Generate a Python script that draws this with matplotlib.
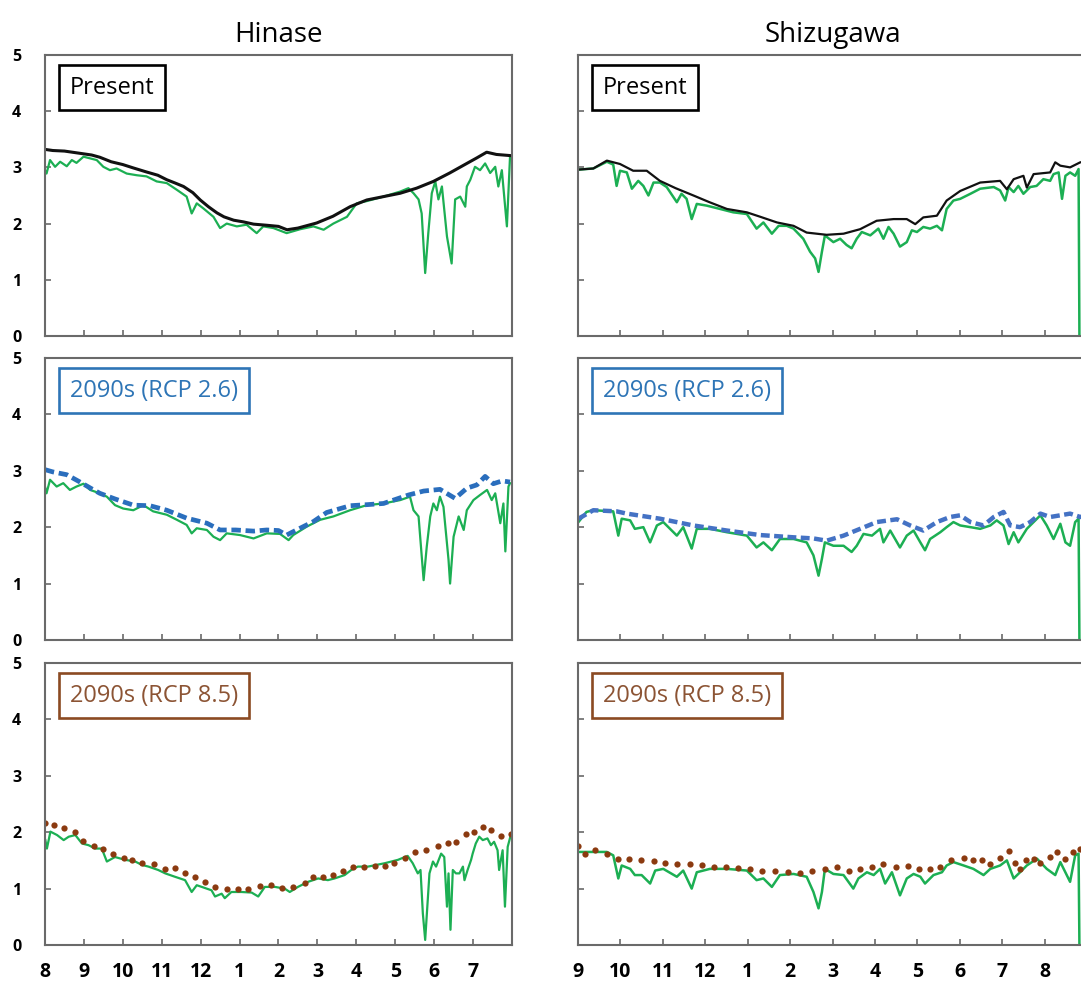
import numpy as np
import matplotlib
matplotlib.use("Agg")
import matplotlib.pyplot as plt

plt.rcParams['font.family'] = ['Open Sans', 'DejaVu Sans']

### Data (x = months since start of the water year) ###

hinase_months = ["8", "9", "10", "11", "12", "1", "2", "3", "4", "5", "6", "7"]
shizu_months = ["9", "10", "11", "12", "1", "2", "3", "4", "5", "6", "7", "8"]

# Hinase - Present
hin_pres_ref_t = [0.0, 0.2, 0.5, 0.9, 1.2, 1.41, 1.7, 2.0, 2.27, 2.6, 2.9, 3.13, 3.35, 3.56, 3.8,
                  3.99, 4.2, 4.42, 4.6, 4.85, 5.1, 5.36, 5.7, 6.0, 6.22, 6.5, 6.98, 7.4, 7.84, 8.27,
                  8.7, 9.13, 9.55, 9.98, 10.4, 10.84, 11.1, 11.35, 11.6, 11.95]
hin_pres_ref = [3.32, 3.30, 3.29, 3.25, 3.22, 3.18, 3.10, 3.05, 2.99, 2.92, 2.86, 2.78, 2.72, 2.66, 2.55,
                2.42, 2.30, 2.19, 2.12, 2.06, 2.03, 1.99, 1.97, 1.95, 1.89, 1.92, 2.01, 2.13, 2.30, 2.42,
                2.48, 2.54, 2.63, 2.75, 2.90, 3.07, 3.17, 3.27, 3.23, 3.21]
hin_pres_mod_t = [0.0, 0.04, 0.13, 0.26, 0.39, 0.56, 0.69, 0.81, 0.99, 1.16, 1.33, 1.50, 1.67, 1.84,
                  2.10, 2.36, 2.61, 2.87, 3.13, 3.39, 3.64, 3.77, 3.90, 4.07, 4.33, 4.50, 4.67, 4.93,
                  5.18, 5.44, 5.61, 5.87, 6.21, 6.56, 6.90, 7.16, 7.41, 7.76, 8.01, 8.27, 8.70, 9.13,
                  9.34, 9.47, 9.60, 9.68, 9.77, 9.85, 9.94, 10.03, 10.11, 10.20, 10.33, 10.45, 10.54,
                  10.67, 10.80, 10.84, 10.93, 11.05, 11.18, 11.31, 11.44, 11.57, 11.65, 11.74, 11.87, 11.95]
hin_pres_mod = [2.95, 2.89, 3.13, 3.01, 3.10, 3.02, 3.13, 3.08, 3.19, 3.16, 3.13, 3.01, 2.95, 2.98,
                2.89, 2.86, 2.84, 2.75, 2.72, 2.60, 2.48, 2.18, 2.36, 2.27, 2.12, 1.92, 2.00, 1.95,
                1.98, 1.83, 1.95, 1.92, 1.83, 1.90, 1.95, 1.89, 2.00, 2.12, 2.36, 2.40, 2.48, 2.57,
                2.63, 2.54, 2.43, 2.18, 1.12, 1.83, 2.54, 2.75, 2.43, 2.66, 1.77, 1.29, 2.43,
                2.48, 2.30, 2.66, 2.78, 3.01, 2.95, 3.07, 2.90, 3.01, 2.66, 2.95, 1.95, 3.19]

# Hinase - 2090s RCP 2.6
hin_26_ref_t = [0.0, 0.2, 0.56, 0.9, 1.2, 1.41, 1.8, 2.27, 2.7, 3.13, 3.64, 4.16, 4.5, 4.9, 5.36, 5.7,
                6.0, 6.21, 6.38, 6.9, 7.24, 7.84, 8.3, 8.7, 9.34, 9.73, 10.15, 10.54, 10.84, 11.1,
                11.31, 11.52, 11.75, 11.95]
hin_26_ref = [3.02, 2.98, 2.93, 2.80, 2.68, 2.60, 2.50, 2.39, 2.38, 2.30, 2.16, 2.07, 1.95, 1.95, 1.93,
              1.95, 1.94, 1.86, 1.92, 2.10, 2.26, 2.38, 2.40, 2.42, 2.57, 2.64, 2.67, 2.51, 2.69, 2.75,
              2.90, 2.77, 2.82, 2.80]
hin_26_mod_t = [0.0, 0.04, 0.13, 0.30, 0.47, 0.64, 0.81, 0.99, 1.16, 1.41, 1.59, 1.80, 2.01, 2.27, 2.53,
                2.78, 3.13, 3.39, 3.64, 3.77, 3.90, 4.16, 4.33, 4.50, 4.67, 5.01, 5.36, 5.70, 6.04,
                6.26, 6.38, 6.73, 7.07, 7.41, 7.84, 8.27, 8.70, 9.13, 9.38, 9.47, 9.60, 9.73, 9.81,
                9.90, 9.98, 10.07, 10.15, 10.24, 10.37, 10.41, 10.50, 10.63, 10.76, 10.84, 11.01,
                11.18, 11.36, 11.48, 11.57, 11.70, 11.78, 11.83, 11.91, 11.95]
hin_26_mod = [2.72, 2.60, 2.84, 2.72, 2.78, 2.66, 2.72, 2.77, 2.66, 2.60, 2.54, 2.39, 2.33, 2.30, 2.39,
              2.28, 2.22, 2.13, 2.04, 1.89, 1.98, 1.95, 1.83, 1.77, 1.89, 1.86, 1.80, 1.89, 1.88,
              1.77, 1.86, 2.01, 2.13, 2.19, 2.30, 2.39, 2.42, 2.48, 2.54, 2.30, 2.19, 1.06, 1.65,
              2.19, 2.42, 2.30, 2.54, 2.36, 1.42, 1.00, 1.83, 2.19, 1.95, 2.30, 2.48,
              2.57, 2.66, 2.48, 2.60, 2.07, 2.42, 1.57, 2.72, 2.78]

# Hinase - 2090s RCP 8.5 (reference as weekly dots)
hin_85_ref_t = [0.01, 0.22, 0.48, 0.78, 0.99, 1.25, 1.50, 1.76, 2.02, 2.23, 2.49, 2.79, 3.09, 3.34,
                3.60, 3.86, 4.11, 4.37, 4.67, 4.97, 5.22, 5.52, 5.82, 6.08, 6.38, 6.68, 6.89, 7.15,
                7.40, 7.66, 7.91, 8.21, 8.47, 8.73, 8.98, 9.24, 9.50, 9.79, 10.09, 10.35, 10.56,
                10.82, 11.03, 11.25, 11.46, 11.72, 11.97]
hin_85_ref = [2.17, 2.13, 2.07, 2.00, 1.85, 1.76, 1.70, 1.62, 1.55, 1.50, 1.45, 1.44, 1.34, 1.37,
              1.27, 1.20, 1.12, 1.03, 0.99, 1.00, 0.99, 1.04, 1.06, 1.01, 1.03, 1.10, 1.20, 1.20,
              1.24, 1.32, 1.39, 1.39, 1.40, 1.40, 1.46, 1.55, 1.65, 1.69, 1.75, 1.80, 1.82,
              1.96, 2.01, 2.10, 2.04, 1.94, 1.97]
hin_85_mod_t = [0.01, 0.05, 0.14, 0.31, 0.48, 0.61, 0.78, 0.95, 1.12, 1.29, 1.46, 1.59, 1.80, 2.06,
                2.32, 2.49, 2.66, 2.91, 3.09, 3.34, 3.60, 3.77, 3.90, 4.03, 4.28, 4.37, 4.54, 4.62,
                4.79, 5.05, 5.31, 5.48, 5.65, 5.91, 6.16, 6.29, 6.50, 6.76, 7.02, 7.27, 7.44, 7.70,
                7.87, 8.04, 8.30, 8.73, 9.07, 9.32, 9.45, 9.58, 9.65, 9.71, 9.77, 9.88, 9.97, 10.05,
                10.18, 10.26, 10.33, 10.37, 10.42, 10.48, 10.56, 10.65, 10.74, 10.78, 10.86, 10.95,
                10.99, 11.07, 11.16, 11.25, 11.37, 11.46, 11.54, 11.63, 11.67, 11.76, 11.82, 11.89, 11.97]
hin_85_mod = [1.86, 1.71, 2.01, 1.95, 1.86, 1.92, 1.95, 1.80, 1.77, 1.71, 1.71, 1.48, 1.56, 1.51,
              1.48, 1.42, 1.39, 1.33, 1.27, 1.21, 1.15, 0.94, 1.06, 1.03, 0.97, 0.86, 0.91, 0.83,
              0.94, 0.94, 0.93, 0.86, 1.03, 1.03, 1.00, 0.94, 1.03, 1.12, 1.18, 1.15, 1.18, 1.24,
              1.33, 1.39, 1.39, 1.45, 1.51, 1.58, 1.45, 1.27, 1.33, 0.56, 0.09, 1.27, 1.48, 1.39,
              1.62, 1.56, 0.68, 1.27, 0.27, 1.33, 1.27, 1.27, 1.39, 1.15, 1.33, 1.51,
              1.62, 1.80, 1.92, 1.86, 1.89, 1.77, 1.83, 1.68, 1.33, 1.68, 0.68, 1.74, 1.95]

# Shizugawa - Present
shz_pres_ref_t = [0.0, 0.36, 0.68, 0.99, 1.30, 1.62, 1.93, 2.30, 2.72, 3.10, 3.51, 3.98, 4.30, 4.69,
                  5.08, 5.39, 5.86, 6.26, 6.65, 7.04, 7.44, 7.75, 7.95, 8.14, 8.46, 8.69, 9.01, 9.48,
                  9.95, 10.11, 10.27, 10.50, 10.58, 10.74, 11.13, 11.25, 11.37, 11.60, 11.84, 12.0]
shz_pres_ref = [2.96, 2.98, 3.12, 3.06, 2.94, 2.94, 2.76, 2.63, 2.50, 2.38, 2.26, 2.20, 2.12, 2.02,
                1.96, 1.84, 1.80, 1.82, 1.90, 2.05, 2.08, 2.08, 1.99, 2.11, 2.14, 2.41, 2.58, 2.73,
                2.76, 2.61, 2.79, 2.85, 2.64, 2.88, 2.91, 3.09, 3.03, 3.00, 3.09, 3.10]
shz_pres_mod_t = [0.01, 0.36, 0.68, 0.83, 0.91, 0.99, 1.15, 1.27, 1.42, 1.54, 1.66, 1.78, 1.93, 2.09,
                  2.33, 2.44, 2.56, 2.68, 2.80, 3.03, 3.35, 3.66, 3.98, 4.21, 4.37, 4.57, 4.73, 4.92,
                  5.08, 5.31, 5.47, 5.59, 5.67, 5.75, 5.82, 6.02, 6.18, 6.33, 6.45, 6.57, 6.69, 6.89,
                  7.08, 7.20, 7.32, 7.44, 7.59, 7.75, 7.87, 7.99, 8.14, 8.30, 8.46, 8.58, 8.69, 8.85,
                  9.01, 9.25, 9.48, 9.80, 9.95, 10.07, 10.15, 10.27, 10.38, 10.50, 10.66, 10.81, 10.97,
                  11.13, 11.21, 11.33, 11.41, 11.49, 11.60, 11.72, 11.80, 11.82]
shz_pres_mod = [2.96, 2.98, 3.10, 3.05, 2.67, 2.94, 2.91, 2.62, 2.76, 2.67, 2.50, 2.73, 2.73, 2.65,
                2.38, 2.53, 2.44, 2.08, 2.35, 2.32, 2.26, 2.20, 2.17, 1.91, 2.02, 1.82, 1.96, 1.96,
                1.91, 1.73, 1.50, 1.38, 1.14, 1.50, 1.79, 1.67, 1.73, 1.62, 1.56, 1.73, 1.85, 1.79,
                1.91, 1.73, 1.94, 1.82, 1.59, 1.67, 1.88, 1.85, 1.94, 1.91, 1.96, 1.88, 2.26, 2.41,
                2.44, 2.53, 2.62, 2.65, 2.59, 2.41, 2.65, 2.56, 2.67, 2.53, 2.65, 2.67, 2.79,
                2.76, 2.88, 2.91, 2.44, 2.85, 2.91, 2.85, 2.97, 0.0]

# Shizugawa - 2090s RCP 2.6
shz_26_ref_t = [0.01, 0.36, 0.91, 1.15, 1.93, 2.72, 3.51, 4.29, 5.08, 5.55, 5.86, 6.26, 6.65, 7.04,
                7.52, 7.83, 8.14, 8.46, 8.77, 9.01, 9.25, 9.56, 9.80, 10.03, 10.19, 10.42, 10.66,
                10.90, 11.13, 11.37, 11.60, 11.84, 12.0]
shz_26_ref = [2.15, 2.30, 2.28, 2.24, 2.15, 2.03, 1.94, 1.86, 1.82, 1.80, 1.76, 1.85, 1.97, 2.09,
              2.14, 2.03, 1.94, 2.09, 2.18, 2.21, 2.09, 2.03, 2.18, 2.27, 2.03, 2.00, 2.09,
              2.24, 2.18, 2.21, 2.24, 2.18, 2.20]
shz_26_mod_t = [0.01, 0.20, 0.36, 0.83, 0.95, 1.03, 1.23, 1.34, 1.54, 1.70, 1.86, 2.01, 2.33, 2.48,
                2.68, 2.80, 3.11, 3.51, 3.98, 4.21, 4.37, 4.57, 4.76, 5.08, 5.39, 5.55, 5.67, 5.75,
                5.82, 6.02, 6.26, 6.45, 6.57, 6.73, 6.93, 7.12, 7.20, 7.36, 7.59, 7.75, 7.91, 8.07,
                8.18, 8.30, 8.54, 8.69, 8.85, 9.01, 9.25, 9.48, 9.72, 9.87, 10.03, 10.15, 10.27,
                10.38, 10.58, 10.74, 10.90, 11.05, 11.21, 11.37, 11.49, 11.60, 11.72, 11.80, 11.82]
shz_26_mod = [2.09, 2.27, 2.30, 2.28, 1.85, 2.15, 2.12, 1.97, 2.00, 1.73, 2.03, 2.09, 1.85, 2.00,
              1.62, 1.97, 1.97, 1.91, 1.85, 1.64, 1.73, 1.59, 1.79, 1.79, 1.73, 1.50, 1.14, 1.44,
              1.73, 1.67, 1.67, 1.56, 1.67, 1.88, 1.85, 1.97, 1.73, 1.94, 1.64, 1.85, 1.94, 1.73,
              1.59, 1.79, 1.91, 2.00, 2.09, 2.03, 2.00, 1.97, 2.03, 2.12, 2.03, 1.70, 1.91,
              1.73, 1.97, 2.09, 2.21, 2.03, 1.79, 2.06, 1.73, 1.67, 2.09, 2.15, 0.0]

# Shizugawa - 2090s RCP 8.5
shz_85_ref_t = [0.01, 0.17, 0.40, 0.68, 0.95, 1.21, 1.49, 1.78, 2.05, 2.33, 2.64, 2.92, 3.21, 3.49,
                3.78, 4.06, 4.33, 4.65, 4.94, 5.24, 5.51, 5.82, 6.10, 6.38, 6.65, 6.92, 7.20, 7.50,
                7.79, 8.03, 8.29, 8.54, 8.79, 9.09, 9.32, 9.52, 9.71, 9.95, 10.15, 10.31, 10.42,
                10.56, 10.74, 10.90, 11.13, 11.29, 11.49, 11.68, 11.84]
shz_85_ref = [1.75, 1.62, 1.68, 1.62, 1.53, 1.53, 1.50, 1.49, 1.46, 1.44, 1.43, 1.42, 1.39, 1.38,
              1.36, 1.35, 1.32, 1.31, 1.29, 1.28, 1.31, 1.35, 1.38, 1.32, 1.34, 1.39, 1.43, 1.38,
              1.40, 1.34, 1.34, 1.39, 1.51, 1.54, 1.50, 1.50, 1.43, 1.55, 1.66, 1.46, 1.35,
              1.50, 1.53, 1.46, 1.56, 1.65, 1.53, 1.65, 1.71]
shz_85_mod_t = [0.01, 0.36, 0.68, 0.83, 0.95, 1.03, 1.23, 1.34, 1.50, 1.70, 1.82, 2.01, 2.33, 2.48,
                2.68, 2.80, 3.11, 3.51, 3.98, 4.21, 4.37, 4.57, 4.76, 5.08, 5.39, 5.55, 5.67, 5.75,
                5.82, 6.02, 6.26, 6.49, 6.61, 6.81, 6.97, 7.12, 7.24, 7.40, 7.59, 7.75, 7.91, 8.07,
                8.18, 8.38, 8.58, 8.69, 8.85, 9.09, 9.32, 9.56, 9.72, 9.95, 10.11, 10.27, 10.42,
                10.58, 10.82, 11.05, 11.25, 11.37, 11.60, 11.72, 11.80, 11.82]
shz_85_mod = [1.65, 1.65, 1.65, 1.59, 1.18, 1.41, 1.35, 1.24, 1.24, 1.09, 1.32, 1.35, 1.21, 1.32,
              1.00, 1.29, 1.35, 1.35, 1.32, 1.15, 1.18, 1.03, 1.24, 1.26, 1.21, 0.94, 0.65, 0.94,
              1.35, 1.26, 1.24, 1.00, 1.18, 1.29, 1.24, 1.35, 1.09, 1.29, 0.88, 1.18, 1.26, 1.21,
              1.09, 1.24, 1.29, 1.41, 1.47, 1.41, 1.35, 1.24, 1.35, 1.41, 1.50, 1.18, 1.29,
              1.41, 1.53, 1.35, 1.24, 1.47, 1.12, 1.59, 1.62, 0.0]

GREEN = '#1caf53'
GREY = '#6a6a6a'

fig = plt.figure(figsize=(10.81, 9.85), dpi=100)

col_left = [0.0416, 0.5347]
col_width = [0.432, 0.4709]
row_bottom = [0.6589, 0.3503, 0.0406]
row_height = [0.2853, 0.2863, 0.2863]


def setup(ax, months, ylabels, xlabels):
    ax.set_xlim(0, 12)
    ax.set_ylim(0, 5)
    ax.set_xticks(np.arange(12))
    ax.set_yticks(np.arange(6))
    if xlabels:
        ax.set_xticklabels(months, fontsize=14, fontweight='bold')
    else:
        ax.set_xticklabels([])
    if ylabels:
        ax.set_yticklabels([str(i) for i in range(6)], fontsize=11.5, fontweight='bold')
    else:
        ax.set_yticklabels([])
    ax.tick_params(direction='in', length=4, width=1.2, color=GREY)
    ax.tick_params(axis='y', pad=17)
    ax.tick_params(axis='x', pad=12)
    for s in ax.spines.values():
        s.set_color(GREY)
        s.set_linewidth(1.5)


def label_box(ax, text, color, edge):
    ax.annotate(text, xy=(0, 1), xycoords='axes fraction', xytext=(18, -15),
                textcoords='offset points', ha='left', va='top', fontsize=17, color=color,
                bbox=dict(boxstyle='square,pad=0.45', fc='white', ec=edge, lw=1.9), zorder=5)


axes = [[fig.add_axes([col_left[c], row_bottom[r], col_width[c], row_height[r]]) for c in range(2)]
        for r in range(3)]

# Hinase column
ax = axes[0][0]
ax.plot(hin_pres_mod_t, hin_pres_mod, color=GREEN, lw=1.6)
ax.plot(hin_pres_ref_t, hin_pres_ref, color='#111111', lw=2.2)
ax.set_title('Hinase', fontsize=20, pad=9)
label_box(ax, 'Present', 'black', 'black')

ax = axes[1][0]
ax.plot(hin_26_mod_t, hin_26_mod, color=GREEN, lw=1.6)
ax.plot(hin_26_ref_t, hin_26_ref, color='#2a6ebd', lw=3.4, ls=(0, (2.0, 1.0)))
label_box(ax, '2090s (RCP 2.6)', '#2e75b6', '#2e75b6')

ax = axes[2][0]
ax.plot(hin_85_mod_t, hin_85_mod, color=GREEN, lw=1.6)
ax.plot(hin_85_ref_t, hin_85_ref, 'o', color='#8b3a10', ms=4.5, mew=0)
label_box(ax, '2090s (RCP 8.5)', '#8c5434', '#8b4a22')

# Shizugawa column
ax = axes[0][1]
ax.plot(shz_pres_mod_t, shz_pres_mod, color=GREEN, lw=1.8)
ax.plot(shz_pres_ref_t, shz_pres_ref, color='#111111', lw=1.6)
ax.set_title('Shizugawa', fontsize=20, pad=9)
label_box(ax, 'Present', 'black', 'black')

ax = axes[1][1]
ax.plot(shz_26_mod_t, shz_26_mod, color=GREEN, lw=1.8)
ax.plot(shz_26_ref_t, shz_26_ref, color='#4472c4', lw=3.2, ls=(0, (2.0, 1.0)))
label_box(ax, '2090s (RCP 2.6)', '#2e75b6', '#2e75b6')

ax = axes[2][1]
ax.plot(shz_85_mod_t, shz_85_mod, color=GREEN, lw=1.8)
ax.plot(shz_85_ref_t, shz_85_ref, 'o', color='#8b3a10', ms=4.5, mew=0)
label_box(ax, '2090s (RCP 8.5)', '#8c5434', '#8b4a22')

for r in range(3):
    setup(axes[r][0], hinase_months, True, r == 2)
    setup(axes[r][1], shizu_months, False, r == 2)

fig.savefig('out.png', dpi=100)
